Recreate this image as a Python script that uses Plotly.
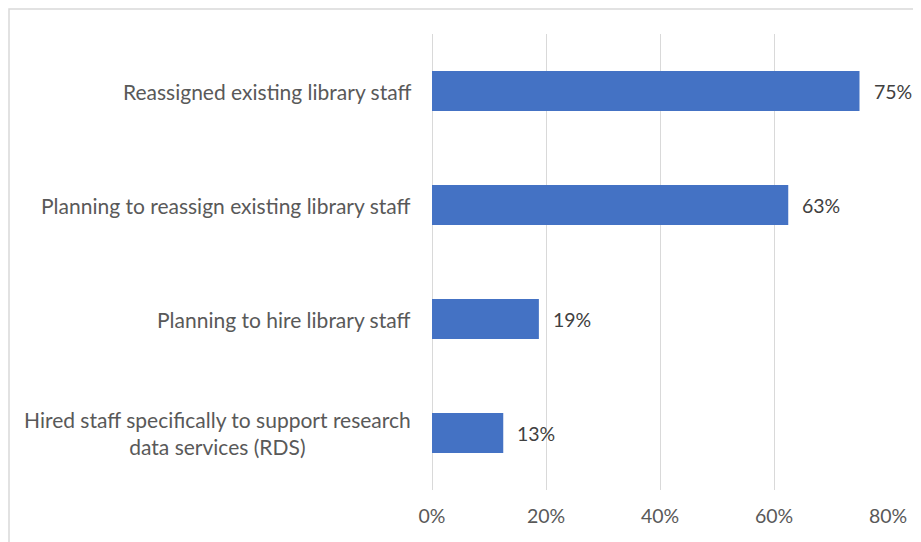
import plotly.graph_objects as go

categories = [
    "Reassigned existing library staff",
    "Planning to reassign existing library staff",
    "Planning to hire library staff",
    "Hired staff specifically to support research<br>data services (RDS)",
]
values = [75, 62.5, 18.75, 12.5]
value_labels = ["75%", "63%", "19%", "13%"]
tick_vals = [0, 20, 40, 60, 80]
tick_text = ["0%", "20%", "40%", "60%", "80%"]

FONT = "Lato"
OFF = 8  # page body margin
W, H = 921 - OFF, 542 - OFF
L, T = 432 - OFF, 34 - OFF
R, B = 921 - 888, 542 - 490
pw = W - L - R
ph = H - T - B

fig = go.Figure(go.Bar(
    x=values, y=categories, orientation="h",
    marker=dict(color="#4472C4", line=dict(width=0)),
    width=0.35, hoverinfo="skip",
))

ann = []
for c, v, t in zip(categories, values, value_labels):
    ann.append(dict(x=v, y=c, xref="x", yref="y", text=t, showarrow=False,
                    xanchor="left", xshift=12,
                    font=dict(family=FONT, size=19.5, color="#404040")))
    ann.append(dict(x=0, y=c, xref="x", yref="y", text=c, showarrow=False,
                    xanchor="right", xshift=-19, align="center",
                    font=dict(family=FONT, size=21, color="#595959")))

fig.update_layout(
    width=W, height=H,
    margin=dict(l=L, r=R, t=T, b=B),
    paper_bgcolor="white", plot_bgcolor="white",
    showlegend=False,
    annotations=ann,
    xaxis=dict(range=[0, 80], tickvals=tick_vals, ticktext=tick_text,
               showgrid=True, gridcolor="#d9d9d9", gridwidth=1,
               zeroline=True, zerolinecolor="#d9d9d9", zerolinewidth=1,
               showline=False, ticks="", ticklabelstandoff=12,
               tickfont=dict(family=FONT, size=19.5, color="#595959"),
               fixedrange=True),
    yaxis=dict(autorange="reversed", showticklabels=False, showgrid=False,
               zeroline=False, showline=False, ticks="", fixedrange=True),
    shapes=[dict(type="rect", xref="paper", yref="paper",
                 x0=-(L - 1) / pw, x1=1 + (R + 20) / pw,
                 y0=-(B + 20) / ph, y1=1 + (T - 1) / ph,
                 line=dict(color="#d9d9d9", width=1.5), layer="below")],
)

fig.write_html("out.html")
